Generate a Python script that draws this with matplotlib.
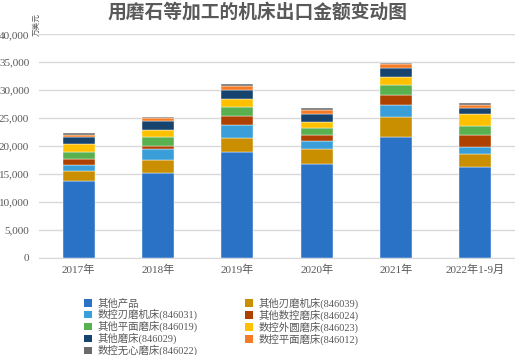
import numpy as np
import matplotlib
matplotlib.use("Agg")
import matplotlib.pyplot as plt
from matplotlib.patches import Patch

plt.rcParams['font.family'] = ['Liberation Serif', 'Noto Sans CJK SC', 'DejaVu Sans']

years = ['2017年', '2018年', '2019年', '2020年', '2021年', '2022年1-9月']

series_names = ['其他产品', '其他刃磨机床(846039)', '数控刃磨机床(846031)', '其他数控磨床(846024)',
                '其他平面磨床(846019)', '数控外圆磨床(846023)', '其他磨床(846029)',
                '数控平面磨床(846012)', '数控无心磨床(846022)']

other_products = [13700, 15250, 18950, 16800, 21600, 16200]
other_blade = [1850, 2300, 2550, 2600, 3550, 2400]
cnc_blade = [1100, 1900, 2250, 1450, 2200, 1250]
other_cnc = [950, 600, 1650, 1200, 1800, 2050]
other_surface = [1400, 1500, 1650, 1200, 1750, 1600]
cnc_cylindrical = [1400, 1400, 1400, 1000, 1450, 2150]
other_grinders = [1300, 1500, 1600, 1400, 1550, 1100]
cnc_surface = [350, 500, 750, 800, 700, 650]
cnc_centerless = [250, 250, 300, 300, 350, 300]

colors = ['#2A72C6', '#C98F00', '#3A9FD9', '#AE4100', '#58B04F',
          '#FFC000', '#17446F', '#F57B26', '#6B6B6B']

all_series = [other_products, other_blade, cnc_blade, other_cnc, other_surface,
              cnc_cylindrical, other_grinders, cnc_surface, cnc_centerless]

fig = plt.figure(figsize=(5.15, 3.55), dpi=100)
ax = fig.add_axes([39 / 515, 1 - 257.7 / 355, 1 - 39 / 515, (257.7 - 34.3) / 355])

x = np.arange(len(years))
bottom = np.zeros(len(years))
for vals, c in zip(all_series, colors):
    ax.bar(x, vals, width=0.40, bottom=bottom, color=c, edgecolor='white', linewidth=0.3, zorder=3)
    bottom += np.array(vals)

ax.set_ylim(0, 40000)
ax.set_xlim(-0.5, len(years) - 0.5)
ax.set_yticks(np.arange(0, 40001, 5000))
ax.set_yticklabels([f'{v:,}' for v in range(0, 40001, 5000)])
ax.set_xticks(x)
ax.set_xticklabels(years)
ax.grid(axis='y', color='#D9D9D9', linewidth=1.0, zorder=0)
for s in ['top', 'right', 'left']:
    ax.spines[s].set_visible(False)
ax.spines['bottom'].set_color('#D9D9D9')
ax.tick_params(axis='both', length=0, labelsize=8, colors='#595959')
ax.tick_params(axis='y', pad=7)
ax.tick_params(axis='x', pad=5)

fig.text(37 / 515, 1 - 25 / 355, '万美元', rotation=90, fontsize=5.5, color='#595959',
         ha='center', va='center')
fig.text(0.5, 1 - 12 / 355, '用磨石等加工的机床出口金额变动图', fontsize=13.5, color='#595959',
         ha='center', va='center', family=['Noto Sans CJK SC'], weight='bold')

# legend filled row by row like the original
handles = [Patch(facecolor=c) for c in colors]
order = [0, 2, 4, 6, 8, 1, 3, 5, 7]
leg = fig.legend([handles[i] for i in order], [series_names[i] for i in order],
                 ncol=2, loc='upper left', bbox_to_anchor=(79 / 515, 1 - 292 / 355),
                 frameon=False, fontsize=7.5, handlelength=0.75, handleheight=0.75,
                 handletextpad=0.5, labelspacing=0.05, columnspacing=4.6, borderpad=0)
for t in leg.get_texts():
    t.set_color('#595959')

fig.savefig('out.png', dpi=100)
